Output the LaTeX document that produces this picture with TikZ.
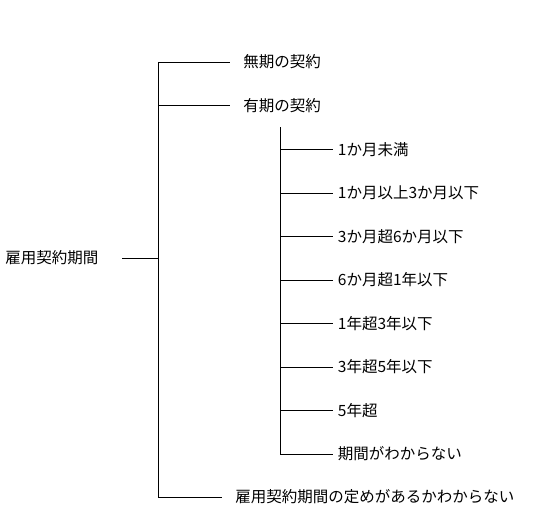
\documentclass[tikz,border=0pt]{standalone}
\usepackage{fontspec}
\newfontfamily\jpfont{Noto Sans CJK JP}
\usetikzlibrary{positioning}
\tikzset{lbl/.style={inner sep=0pt, font=\jpfont\fontsize{15.5}{16}\selectfont}}
\def\leaf(#1,#2,#3,#4,#5,#6){
  \coordinate (#1-j) at (#2,#3);
  \coordinate (#1-e) at (#4,#3);
  \node[lbl, right=#5pt of #1-e] (#1) {#6};
  \draw (#1-j) -- (#1-e);
}

\begin{document}
\begin{tikzpicture}[x=1pt,y=-1pt,line width=0.8pt]
\useasboundingbox (0,0) rectangle (557,519);
\node[lbl, anchor=west] (root) at (5,258) {雇用契約期間};
\coordinate (root-e) at (122,258);
\coordinate (root-j) at (158,258);
\draw (root-e) -- (root-j);
\coordinate (trunk-top) at (158,62);
\coordinate (trunk-bot) at (158,497);
\draw (trunk-top) -- (trunk-bot);
\leaf(mk,158,62,230,13,無期の契約)
\leaf(yk,158,105.5,230,13,有期の契約)
\leaf(none,158,497,222,13,雇用契約期間の定めがあるかわからない)
\coordinate (sub-top) at (280,127);
\coordinate (sub-bot) at (280,454);
\draw (sub-top) -- (sub-bot);
\leaf(p1,280,149.5,333,4.5,1か月未満)
\leaf(p2,280,193,333,4.5,1か月以上3か月以下)
\leaf(p3,280,236.5,333,4.5,3か月超6か月以下)
\leaf(p4,280,280,333,4.5,6か月超1年以下)
\leaf(p5,280,323.5,333,4.5,1年超3年以下)
\leaf(p6,280,367,333,4.5,3年超5年以下)
\leaf(p7,280,410.5,333,4.5,5年超)
\leaf(p8,280,454,333,4.5,期間がわからない)
\end{tikzpicture}
\end{document}
